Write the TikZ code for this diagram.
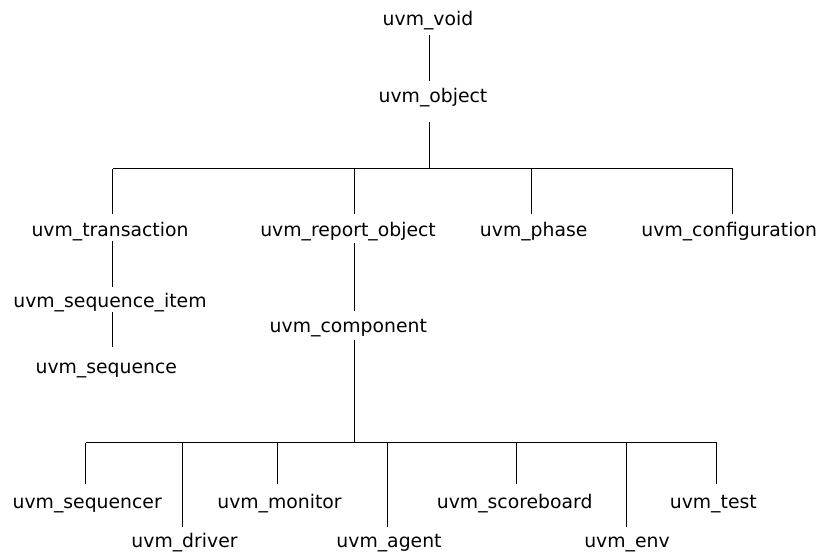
\documentclass[tikz,border=0pt]{standalone}
\usepackage{fontspec}
\setmainfont{DejaVu Sans}
\begin{document}
\begin{tikzpicture}[x=1pt,y=-1pt,
  cls/.style={inner sep=0pt, anchor=base, text height=20pt, text depth=5pt,
              font=\fontsize{18.8}{22}\selectfont},
  edge/.style={line width=1.1pt, black}]
\useasboundingbox (0,0) rectangle (821,552);
% classes
\node[cls] (void)  at (428,25)    {uvm\_void};
\node[cls] (obj)   at (433,102)   {uvm\_object};
\node[cls] (trans) at (110,236)   {uvm\_transaction};
\node[cls] (rep)   at (348,236)   {uvm\_report\_object};
\node[cls] (phase) at (533.7,236) {uvm\_phase};
\node[cls] (conf)  at (729.2,236) {uvm\_configuration};
\node[cls] (item)  at (110,307)   {uvm\_sequence\_item};
\node[cls] (seq)   at (106.3,373) {uvm\_sequence};
\node[cls] (comp)  at (348.3,332) {uvm\_component};
\node[cls] (sqr)   at (87.2,508)  {uvm\_sequencer};
\node[cls] (drv)   at (184.5,547) {uvm\_driver};
\node[cls] (mon)   at (279.5,508) {uvm\_monitor};
\node[cls] (agt)   at (389,547)   {uvm\_agent};
\node[cls] (scb)   at (514.7,508) {uvm\_scoreboard};
\node[cls] (env)   at (627,547)   {uvm\_env};
\node[cls] (tst)   at (713.3,508) {uvm\_test};
% bus coordinates
\coordinate (a0) at (429.5,168.5);
\coordinate (a1) at (112.5,168.5);
\coordinate (a2) at (354.5,168.5);
\coordinate (a3) at (531.5,168.5);
\coordinate (a4) at (732.5,168.5);
\coordinate (c0) at (354.5,442.5);
\coordinate (d1) at (85.5,442.5);
\coordinate (d2) at (182.5,442.5);
\coordinate (d3) at (277.5,442.5);
\coordinate (d4) at (387.5,442.5);
\coordinate (d5) at (516.5,442.5);
\coordinate (d6) at (626.5,442.5);
\coordinate (d7) at (716.5,442.5);
% top
\draw[edge, shorten <=5pt, shorten >=1pt] (void.south -| a0) -- (obj.north -| a0);
\draw[edge, shorten <=15pt] (obj.south -| a0) -- (a0);
\draw[edge] (a1) -- (a4);
\draw[edge, shorten <=2pt] (trans.north -| a1) -- (a1);
\draw[edge, shorten <=2pt] (rep.north -| a2) -- (a2);
\draw[edge, shorten <=2pt] (phase.north -| a3) -- (a3);
\draw[edge, shorten <=2pt] (conf.north -| a4) -- (a4);
% left branch
\draw[edge] (trans.south -| a1) -- (item.north -| a1);
\draw[edge, shorten >=6pt] (item.south -| a1) -- (seq.north -| a1);
% component branch
\draw[edge, shorten <=2pt, shorten >=1pt] (rep.south -| a2) -- (comp.north -| a2);
\draw[edge, shorten <=3pt] (comp.south -| c0) -- (c0);
\draw[edge] (d1) -- (d7);
\draw[edge, shorten <=4pt] (sqr.north -| d1) -- (d1);
\draw[edge] (drv.north -| d2) -- (d2);
\draw[edge, shorten <=4pt] (mon.north -| d3) -- (d3);
\draw[edge] (agt.north -| d4) -- (d4);
\draw[edge, shorten <=4pt] (scb.north -| d5) -- (d5);
\draw[edge] (env.north -| d6) -- (d6);
\draw[edge, shorten <=4pt] (tst.north -| d7) -- (d7);
\end{tikzpicture}
\end{document}
